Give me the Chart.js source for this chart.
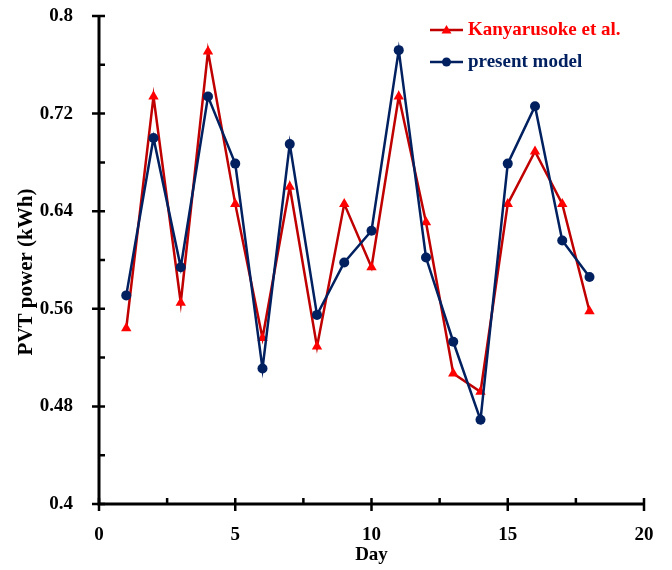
<!DOCTYPE html>
<html>
<head>
<meta charset="utf-8">
<script src="https://cdn.jsdelivr.net/npm/chart.js@4"></script>
<style>
  html, body { margin: 0; padding: 0; background: #fff; }
  #wrap { width: 672px; height: 570px; }
</style>
</head>
<body>
<div id="wrap"><canvas id="pvtChart" width="672" height="570"></canvas></div>
<script>
// ===== data =====
const days = [1, 2, 3, 4, 5, 6, 7, 8, 9, 10, 11, 12, 13, 14, 15, 16, 17, 18];
const kanyarusoke = [0.544, 0.734, 0.565, 0.771, 0.646, 0.536, 0.660, 0.529, 0.646,
                     0.594, 0.734, 0.631, 0.507, 0.492, 0.646, 0.689, 0.646, 0.558];
const presentModel = [0.571, 0.700, 0.594, 0.734, 0.679, 0.511, 0.695, 0.555, 0.598,
                      0.624, 0.772, 0.602, 0.533, 0.469, 0.679, 0.726, 0.616, 0.586];
const xTicks = [0, 5, 10, 15, 20];
const yTicks = [0.4, 0.48, 0.56, 0.64, 0.72, 0.8];
const xMinor = [2.5, 7.5, 12.5, 17.5];
const yMinor = [0.44, 0.52, 0.6, 0.68, 0.76];
const seriesNames = ["Kanyarusoke et al.", "present model"];
const yTitle = "PVT power (kWh)";

const FONT = "'Liberation Serif', 'Times New Roman', serif";
const RED_LINE = "#c00000";
const RED_MARK = "#ff0000";
const NAVY = "#002060";

function points(ys) {
    return days.map((d, i) => ({ x: d, y: ys[i] }));
}

// axes, ticks, y title and legend drawn by hand
const axisPlugin = {
    id: "axisPlugin",
    afterDraw(chart) {
        const ctx = chart.ctx;
        const xs = chart.scales.x;
        const ys = chart.scales.y;
        const a = chart.chartArea;
        ctx.save();
        ctx.strokeStyle = "#000";
        ctx.lineWidth = 3;
        ctx.lineCap = "butt";
        ctx.beginPath();
        ctx.moveTo(a.left, a.top);
        ctx.lineTo(a.left, a.bottom);
        ctx.moveTo(a.left - 1.5, a.bottom);
        ctx.lineTo(a.right, a.bottom);
        ctx.stroke();

        ctx.lineWidth = 2.5;
        ctx.beginPath();
        yTicks.forEach(v => {
            const y = ys.getPixelForValue(v);
            ctx.moveTo(a.left - 7, y);
            ctx.lineTo(a.left + 6, y);
        });
        yMinor.forEach(v => {
            const y = ys.getPixelForValue(v);
            ctx.moveTo(a.left, y);
            ctx.lineTo(a.left + 6, y);
        });
        xTicks.forEach(v => {
            const x = xs.getPixelForValue(v);
            ctx.moveTo(x, a.bottom - 6);
            ctx.lineTo(x, a.bottom + 7);
        });
        xMinor.forEach(v => {
            const x = xs.getPixelForValue(v);
            ctx.moveTo(x, a.bottom - 6);
            ctx.lineTo(x, a.bottom);
        });
        ctx.stroke();

        // y title
        ctx.save();
        ctx.translate(27, 272);
        ctx.rotate(-Math.PI / 2);
        ctx.fillStyle = "#000";
        ctx.font = "bold 21px " + FONT;
        ctx.textAlign = "center";
        ctx.textBaseline = "middle";
        ctx.fillText(yTitle, 0, 0);
        ctx.restore();

        // legend
        const rows = [
            { y: 30, line: RED_LINE, mark: RED_MARK, text: RED_MARK, style: "triangle" },
            { y: 62, line: NAVY, mark: NAVY, text: NAVY, style: "circle" }
        ];
        rows.forEach((r, i) => {
            ctx.strokeStyle = r.line;
            ctx.lineWidth = 2.5;
            ctx.beginPath();
            ctx.moveTo(430, r.y);
            ctx.lineTo(463, r.y);
            ctx.stroke();
            ctx.fillStyle = r.mark;
            ctx.beginPath();
            if (r.style === "triangle") {
                ctx.moveTo(446.5, r.y - 5);
                ctx.lineTo(451.5, r.y + 3.5);
                ctx.lineTo(441.5, r.y + 3.5);
                ctx.closePath();
            } else {
                ctx.arc(446.5, r.y, 4.5, 0, Math.PI * 2);
            }
            ctx.fill();
            ctx.fillStyle = r.text;
            ctx.font = "bold 19px " + FONT;
            ctx.textBaseline = "middle";
            ctx.textAlign = "left";
            ctx.fillText(seriesNames[i], 468, r.y);
        });
        ctx.restore();
    }
};

new Chart(document.getElementById("pvtChart"), {

    type: "scatter",

    data: {
        datasets: [
            {
                label: seriesNames[0],
                data: points(kanyarusoke),
                showLine: true,
                borderColor: RED_LINE,
                borderWidth: 2.5,
                pointStyle: "triangle",
                pointRadius: 6,
                pointBackgroundColor: RED_MARK,
                pointBorderColor: RED_MARK,
                pointBorderWidth: 0,
                order: 2
            },
            {
                label: seriesNames[1],
                data: points(presentModel),
                showLine: true,
                borderColor: NAVY,
                borderWidth: 2.5,
                pointStyle: "circle",
                pointRadius: 5,
                pointBackgroundColor: NAVY,
                pointBorderColor: NAVY,
                pointBorderWidth: 0,
                order: 1
            }
        ]
    },

    options: {
        responsive: false,
        animation: false,
        clip: false,
        layout: {
            padding: { left: 0, top: 16, right: 28, bottom: 0 }
        },
        plugins: {
            legend: { display: false },
            tooltip: { enabled: false }
        },
        scales: {
            x: {
                type: "linear",
                min: 0,
                max: 20,
                grid: { display: false },
                border: { display: false },
                afterBuildTicks: s => { s.ticks = xTicks.map(v => ({ value: v })); },
                afterFit: s => {
                    s.height = 66;
                    s.paddingLeft = 0;
                    s.paddingRight = 0;
                },
                ticks: {
                    color: "#000",
                    padding: 12,
                    font: { family: FONT, size: 19, weight: "bold" }
                },
                title: {
                    display: true,
                    text: "Day",
                    color: "#000",
                    padding: { top: 0, bottom: 4 },
                    font: { family: FONT, size: 19, weight: "bold" }
                }
            },
            y: {
                min: 0.4,
                max: 0.8,
                grid: { display: false },
                border: { display: false },
                afterBuildTicks: s => { s.ticks = yTicks.map(v => ({ value: v })); },
                afterFit: s => {
                    s.width = 99;
                    s.paddingTop = 0;
                    s.paddingBottom = 0;
                },
                ticks: {
                    color: "#000",
                    padding: 18,
                    font: { family: FONT, size: 19, weight: "bold" },
                    callback: v => String(v)
                }
            }
        }
    },

    plugins: [axisPlugin]

});
</script>
</body>
</html>
